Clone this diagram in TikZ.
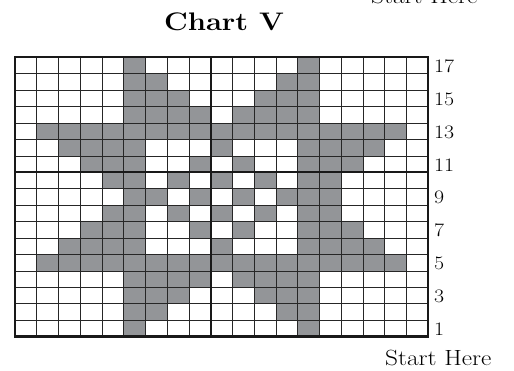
\documentclass[tikz,border=0pt]{standalone}
\usepackage{graphicx}
\definecolor{chartgray}{RGB}{147,149,152}
\tikzset{
  cellfill/.style={fill=chartgray},
  thinline/.style={line width=0.8pt,black!85},
  thickline/.style={line width=2pt,black!90},
  borderline/.style={line width=2.4pt,black!90},
  rowlabel/.style={anchor=west,inner sep=0pt,font=\fontsize{19}{22}\selectfont},
  txt/.style={inner sep=0pt}
}
\newcommand{\hs}[1]{\scalebox{1.15}[1]{#1}}
\begin{document}
\begin{tikzpicture}[x=1pt,y=-1pt]
\useasboundingbox (0,0) rectangle (514,371);
\begin{scope}
\clip (0,0) rectangle (514,371);
\def\xo{15}
\def\yo{57.3}
\def\cw{21.75}
\def\rh{16.435}
% gray cells
\foreach \r/\cols in {17/{6,14},16/{6,7,13,14},15/{6,7,8,12,13,14},14/{6,7,8,9,11,12,13,14},
  13/{2,...,18},12/{3,4,5,6,10,14,15,16,17},11/{4,5,6,9,11,14,15,16},10/{5,6,8,10,12,14,15},
  9/{6,7,9,11,13,14,15},8/{5,6,8,10,12,14,15},7/{4,5,6,9,11,14,15,16},6/{3,4,5,6,10,14,15,16,17},
  5/{2,...,18},4/{6,7,8,9,11,12,13,14},3/{6,7,8,12,13,14},2/{6,7,13,14},1/{6,14}}{
  \foreach \c in \cols {
    \fill[cellfill] ({\xo+(\c-1)*\cw},{\yo+(17-\r)*\rh}) rectangle ++(\cw,\rh);
  }
}
% thin grid
\foreach \i in {1,...,18}{
  \draw[thinline] ({\xo+\i*\cw},\yo) -- ++(0,{17*\rh});
}
\foreach \j in {1,...,16}{
  \draw[thinline] (\xo,{\yo+\j*\rh}) -- ++({19*\cw},0);
}
% thick lines
\draw[thickline] ({\xo+9*\cw},\yo) -- ++(0,{17*\rh});
\draw[thickline] (\xo,{\yo+7*\rh}) -- ++({19*\cw},0);
\draw[borderline] (\xo,\yo) rectangle ++({19*\cw},{17*\rh});
% row labels
\foreach \r in {1,3,...,17}{
  \node[rowlabel] (lab\r) at (434,{\yo+(17-\r)*\rh+\rh/2+0.8}) {\hs{\r}};
}
% texts
\node[txt,anchor=base] (title) at (224,30.7) {\hs{\fontsize{25.4}{30}\selectfont\bfseries Chart V}};
\node[txt,anchor=base west] (starttop) at (371,3.2) {\hs{\fontsize{22}{26}\selectfont Start Here}};
\node[txt,anchor=base west] (startbot) at (385,365) {\hs{\fontsize{22}{26}\selectfont Start Here}};
\end{scope}
\end{tikzpicture}
\end{document}
